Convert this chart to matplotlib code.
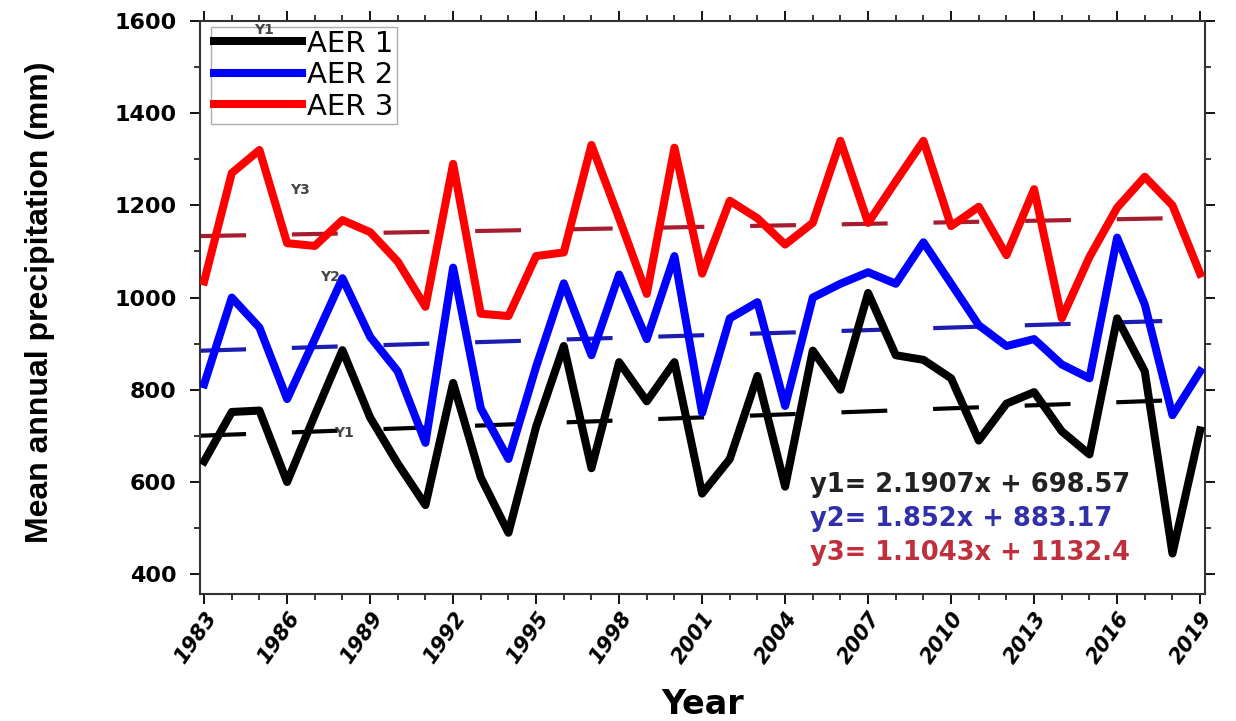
import numpy as np
import matplotlib
matplotlib.use('Agg')
import matplotlib.pyplot as plt
from matplotlib.ticker import MultipleLocator

plt.rcParams['font.family'] = ['DejaVu Sans']

years = list(range(1983, 2020))

aer1 = [645, 752, 755, 600, 745, 886, 740, 640, 550, 815, 610, 490, 720, 895, 630,
        860, 775, 860, 575, 650, 830, 590, 885, 800, 1010, 875, 865, 825, 690, 770,
        795, 710, 660, 955, 840, 445, 712]
aer2 = [812, 1000, 935, 780, 910, 1042, 915, 840, 685, 1065, 760, 650, 850, 1031, 875,
        1050, 910, 1090, 750, 955, 990, 765, 1000, 1030, 1055, 1030, 1120, 1030, 940, 895,
        910, 855, 825, 1130, 985, 745, 840]
aer3 = [1035, 1270, 1320, 1118, 1112, 1168, 1142, 1078, 980, 1290, 965, 960, 1090, 1098, 1331,
        1172, 1008, 1325, 1052, 1210, 1172, 1115, 1162, 1340, 1162, 1252, 1340, 1155, 1197, 1092,
        1235, 955, 1088, 1195, 1262, 1200, 1052]

series_names = ['AER 1', 'AER 2', 'AER 3']
eq_names = ['y1', 'y2', 'y3']
slopes = [2.1907, 1.852, 1.1043]
intercepts = [698.57, 883.17, 1132.4]

line_colors = ['black', '#0000ff', '#ff0000']
trend_colors = ['black', '#1c1cb0', '#a81c30']
eq_colors = ['#222222', '#3030a8', '#c0303c']

fig = plt.figure(figsize=(12.36, 7.21), dpi=100)
ax = fig.add_axes([0.162, 0.176, 0.813, 0.795])

xmin, xmax = 1982.86, 2019.18
x = np.array(years)
xt = np.array([xmin, years[-1]])
for vals, name, c, tc, m, b in zip([aer1, aer2, aer3], series_names, line_colors,
                                   trend_colors, slopes, intercepts):
    ax.plot(x, vals, color=c, linewidth=5.8, label=name, zorder=3)
    # trend: x counted from 1 at 1983
    ax.plot(xt, m * (xt - 1982) + b, color=tc, linewidth=3, dashes=(11, 11), zorder=2)

# little origin labels left on the lines
small = dict(fontsize=10, color='#444444', fontweight='bold', zorder=7, va='center')
ax.text(1984.8, 1580, 'Y1', **small)
ax.text(1986.1, 1233, 'Y3', **small)
ax.text(1987.2, 1044, 'Y2', **small)
ax.text(1987.7, 706, 'Y1', **small)

for i, (n, m, b, c) in enumerate(zip(eq_names, slopes, intercepts, eq_colors)):
    ax.text(2004.9, 593 - i * 73, f"{n}= {m}x + {b}", color=c, fontsize=18.5,
            fontweight='bold', va='center', ha='left', zorder=5)

ax.set_xlim(xmin, xmax)
ax.set_ylim(357, 1600)
ax.set_xticks(years[::3])
ax.xaxis.set_minor_locator(MultipleLocator(1))
ax.set_yticks([400, 600, 800, 1000, 1200, 1400, 1600])
ax.yaxis.set_minor_locator(MultipleLocator(100))

ax.tick_params(axis='both', which='both', direction='out', top=True, right=True)
ax.tick_params(which='major', length=7, width=1.3)
ax.tick_params(which='minor', length=4, width=1.1)
ax.tick_params(axis='y', which='major', pad=10)
ax.tick_params(axis='x', which='major', pad=3)
for lab in ax.get_xticklabels():
    lab.set_rotation(55)
    lab.set_fontweight('bold')
    lab.set_fontstyle('italic')
    lab.set_fontsize(15)
    lab.set_ha('right')
    lab.set_va('top')
    lab.set_rotation_mode('anchor')
for lab in ax.get_yticklabels():
    lab.set_fontweight('bold')
    lab.set_fontsize(16)
for sp in ax.spines.values():
    sp.set_linewidth(1.5)
    sp.set_color('#333333')

ax.set_xlabel('Year', fontsize=24, fontweight='bold')
ax.xaxis.set_label_coords(0.5, -0.163)
ax.set_ylabel('Mean annual precipitation (mm)', fontsize=23, fontweight='bold',
              family='Liberation Sans')
ax.yaxis.set_label_coords(-0.145, 0.51)

leg = ax.legend(loc='upper left', bbox_to_anchor=(0.008, 0.995), fontsize=21, frameon=True,
                fancybox=False, edgecolor='#999999', handlelength=3.0, handletextpad=0.2,
                borderpad=0.1, labelspacing=0.12, borderaxespad=0.1)
leg.get_frame().set_linewidth(1.0)
leg.set_zorder(6)

fig.savefig('out.png', dpi=100)
